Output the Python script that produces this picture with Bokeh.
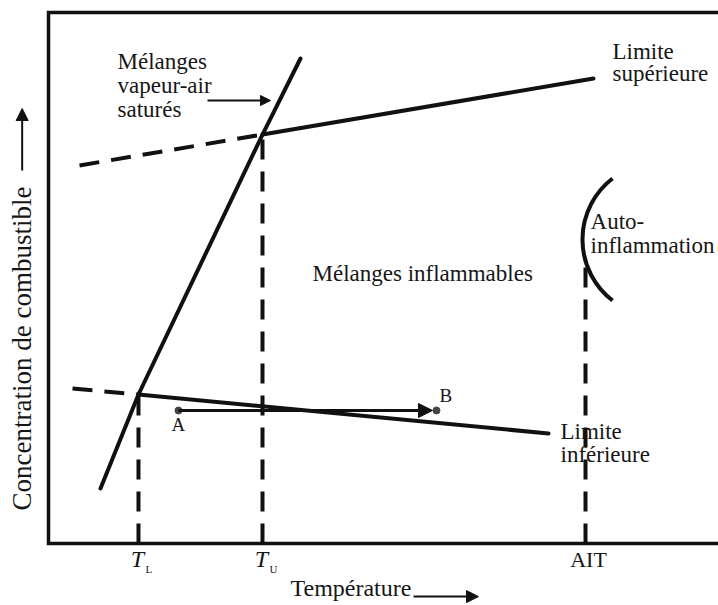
import math
from bokeh.plotting import figure
from bokeh.models import Range1d, Arrow, NormalHead
from bokeh.core.properties import value
from bokeh.embed import file_html
from bokeh.resources import INLINE

# ---------------- data (temperature t and concentration c, 0-100 arbitrary units) ----------------
T_L, T_U, AIT = 13.43, 31.94, 80.15
tick_positions = [T_L, T_U, AIT]
tick_main = ["T", "T", "AIT"]
tick_sub = ["L", "U", ""]

# saturated vapour-air curve
sat_t = [7.76, 13.43, 31.94, 37.61]
sat_c = [10.36, 28.06, 77.02, 91.34]

# upper flammability limit (dashed part below T_U, solid part above)
upper_dash_t = [4.63, 31.94]
upper_dash_c = [71.19, 77.02]
upper_t = [31.94, 81.34]
upper_c = [77.02, 87.57]

# lower flammability limit
lower_dash_t = [3.58, 13.43]
lower_dash_c = [29.19, 28.06]
lower_t = [13.43, 74.63]
lower_c = [28.06, 20.72]

# vertical dashed guides at T_L, T_U, AIT
guide_t = [T_L, T_U, AIT]
guide_top = [28.06, 77.02, 53.30]

# points A and B
A_t, A_c = 19.40, 25.05
B_t, B_c = 57.91, 25.05
AB_arrow_end = 57.31

# auto-ignition arc
arc_t, arc_c = 91.19, 57.25
arc_r = 11.49
arc_start_deg, arc_end_deg = 127.6, 232.4

# text labels (baseline positions)
label_text = ["Mélanges", "vapeur-air", "saturés", "Limite", "supérieure",
              "Mélanges inflammables", "Auto-", "inflammation", "Limite", "inférieure"]
label_t = [10.30, 10.30, 10.30, 84.18, 84.18, 39.40, 80.90, 80.90, 76.42, 76.42]
label_c = [89.08, 84.56, 80.04, 90.96, 86.82, 49.15, 58.95, 54.43, 19.40, 15.07]

pointer_t = [23.73, 33.13]
pointer_c = 83.43

x_title = "Température"
y_title = "Concentration de combustible"

# ---------------- layout ----------------
W, H = 718, 605
FX0, FX1 = 48, 718   # canvas px of t=0 and t=100
FY0, FY1 = 543, 12   # canvas px of c=0 and c=100
sx = (FX1 - FX0) / 100.0
sy = (FY0 - FY1) / 100.0
BASE_FIX = 0.4       # empirical baseline correction (fraction of font size)


def up(c, fs):
    return c + BASE_FIX * fs / sy


p = figure(width=W, height=H, output_backend="svg", toolbar_location=None,
           x_axis_location=None, y_axis_location=None, title=None,
           x_range=Range1d(-FX0 / sx, (W - FX0) / sx),
           y_range=Range1d((FY0 - H) / sy, FY0 / sy),
           min_border=0, outline_line_color=None, background_fill_color="white",
           border_fill_color="white")
p.xgrid.visible = False
p.ygrid.visible = False

INK = "#111111"
TXT = "#161616"
FONT = value("Liberation Serif")

# frame (left, top, bottom axes)
p.line([100, 0, 0, 100], [100, 100, 0, 0], line_color=INK, line_width=3.5, line_join="miter")

# curves
p.line(sat_t, sat_c, line_color=INK, line_width=4, line_cap="round")
p.line(upper_t, upper_c, line_color=INK, line_width=4, line_cap="round")
p.line(upper_dash_t, upper_dash_c, line_color=INK, line_width=4, line_dash="20 12")
p.line(lower_t, lower_c, line_color=INK, line_width=4, line_cap="round")
p.line(lower_dash_t, lower_dash_c, line_color=INK, line_width=4, line_dash="20 12")
p.segment(x0=guide_t, y0=[0] * len(guide_t), x1=guide_t, y1=guide_top,
          line_color=INK, line_width=4, line_dash="20 12")

p.arc(x=[arc_t], y=[arc_c], radius=arc_r, start_angle=math.radians(arc_start_deg),
      end_angle=math.radians(arc_end_deg), direction="anticlock",
      line_color=INK, line_width=4)

# A -> B
p.add_layout(Arrow(end=NormalHead(size=14, fill_color=INK, line_color=INK),
                   x_start=A_t, y_start=A_c, x_end=AB_arrow_end, y_end=B_c,
                   line_color=INK, line_width=3))
p.scatter([A_t, B_t], [A_c, B_c], size=7, color="#444444")
p.text(x=[A_t], y=[up(20.90, 19)], text=["A"], text_font=FONT, text_font_size="19px",
       text_align="center", text_baseline="alphabetic", text_color=TXT)
p.text(x=[58.36], y=[up(26.37, 19)], text=["B"], text_font=FONT, text_font_size="19px",
       text_align="left", text_baseline="alphabetic", text_color=TXT)

# pointer arrow to saturated curve
p.add_layout(Arrow(end=NormalHead(size=10, fill_color=INK, line_color=INK),
                   x_start=pointer_t[0], y_start=pointer_c, x_end=pointer_t[1], y_end=pointer_c,
                   line_color=INK, line_width=2))

# labels
p.text(x=label_t, y=[up(c, 23) for c in label_c], text=label_text, text_font=FONT,
       text_font_size="23px", text_align="left", text_baseline="alphabetic", text_color=TXT)

# tick labels (below the bottom axis)
tick_y = -25 / sy
p.text(x=tick_positions[:2], y=[up(tick_y, 24)] * 2, text=tick_main[:2], text_font=FONT,
       text_font_size="24px", text_font_style="italic", text_align="center",
       text_baseline="alphabetic", text_color=TXT, x_offset=-1)
p.text(x=tick_positions[:2], y=[up(tick_y - 5 / sy, 11)] * 2, text=tick_sub[:2], text_font=FONT,
       text_font_size="11px", text_align="left", text_baseline="alphabetic",
       text_color=TXT, x_offset=7)
p.text(x=[tick_positions[2]], y=[up(tick_y, 22)], text=[tick_main[2]], text_font=FONT,
       text_font_size="22px", text_align="center", text_baseline="alphabetic",
       text_color=TXT, x_offset=3)

# axis titles with arrows
p.text(x=[36.12], y=[up(-10.17, 24)], text=[x_title], text_font=FONT, text_font_size="24px",
       text_align="left", text_baseline="alphabetic", text_color=TXT)
p.add_layout(Arrow(end=NormalHead(size=12, fill_color=INK, line_color=INK),
                   x_start=54.48, y_start=-10.0, x_end=64.18, y_end=-10.0,
                   line_color=INK, line_width=2))

p.text(x=[-2.39 - BASE_FIX * 27 / sx], y=[6.21], text=[y_title], text_font=FONT,
       text_font_size="27px", text_align="left", text_baseline="alphabetic",
       text_color=TXT, angle=math.pi / 2)
p.add_layout(Arrow(end=NormalHead(size=12, fill_color=INK, line_color=INK),
                   x_start=-3.93, y_start=70.24, x_end=-3.93, y_end=81.92,
                   line_color=INK, line_width=2))

open("out.html", "w").write(file_html(p, INLINE))
